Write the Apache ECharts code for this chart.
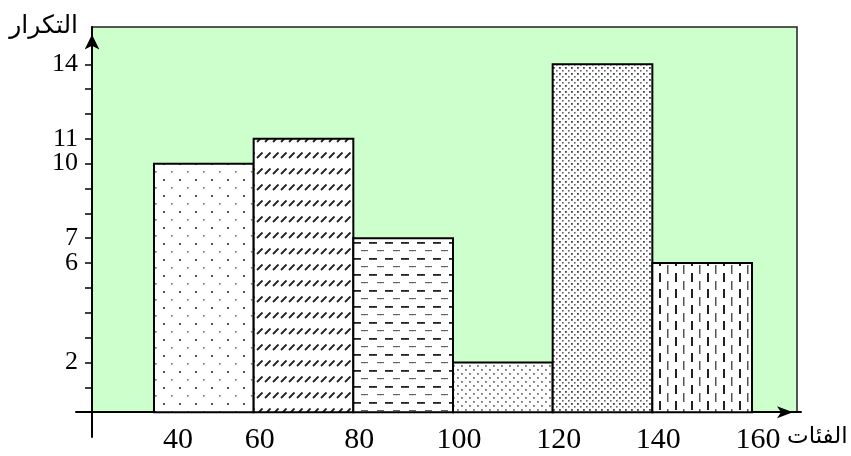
<!DOCTYPE html>
<html>
<head>
<meta charset="utf-8">
<script src="https://cdn.jsdelivr.net/npm/echarts@6/dist/echarts.min.js"></script>
<style>
html, body { margin: 0; padding: 0; background: #fff; }
#main { width: 851px; height: 456px; }
</style>
</head>
<body>
<div id="main"></div>
<script>
// classes (lower / upper bound) and their frequencies
var classStart = [40, 60, 80, 100, 120, 140];
var classEnd = [60, 80, 100, 120, 140, 160];
var frequency = [10, 11, 7, 2, 14, 6];

var xTickLabels = [40, 60, 80, 100, 120, 140, 160];
var yTickLabels = [2, 6, 7, 10, 11, 14];
var yTicks = [1, 2, 3, 4, 5, 6, 7, 8, 9, 10, 11, 12, 13, 14];

var SERIF = "'Liberation Serif', 'Times New Roman', serif";
var ARABIC = "'DejaVu Sans', sans-serif";

// small canvas tiles used as fill patterns for the bars
function makeTile(w, h, draw) {
    var c = document.createElement('canvas');
    c.width = w;
    c.height = h;
    var ctx = c.getContext('2d');
    ctx.fillStyle = '#fff';
    ctx.fillRect(0, 0, w, h);
    draw(ctx);
    return { image: c, repeat: 'repeat' };
}

var patterns = [
    // sparse dots
    makeTile(16, 16, function (ctx) {
        ctx.fillStyle = '#555';
        ctx.fillRect(3, 3, 2, 2);
        ctx.fillStyle = '#777';
        ctx.fillRect(11, 11, 1.6, 1.6);
    }),
    // dashed upward diagonal
    makeTile(8, 16, function (ctx) {
        ctx.strokeStyle = '#222';
        ctx.lineWidth = 1.8;
        ctx.beginPath();
        ctx.moveTo(1, 14);
        ctx.lineTo(6.5, 8.5);
        ctx.stroke();
    }),
    // dashed horizontal
    makeTile(16, 16, function (ctx) {
        ctx.fillStyle = '#222';
        ctx.fillRect(1, 2, 8, 1.8);
        ctx.fillStyle = '#666';
        ctx.fillRect(9, 10, 7, 1.2);
    }),
    // light dense dots
    makeTile(8, 8, function (ctx) {
        ctx.fillStyle = '#777';
        ctx.fillRect(1, 1, 1.8, 1.8);
        ctx.fillRect(5, 5, 1.8, 1.8);
    }),
    // dark dense dots
    makeTile(6, 6, function (ctx) {
        ctx.fillStyle = '#444';
        ctx.fillRect(1, 1, 1.8, 1.8);
        ctx.fillStyle = '#666';
        ctx.fillRect(4, 4, 1.6, 1.6);
    }),
    // dashed vertical
    makeTile(16, 16, function (ctx) {
        ctx.fillStyle = '#222';
        ctx.fillRect(3, 1, 2, 9);
        ctx.fillStyle = '#555';
        ctx.fillRect(11, 9, 1.5, 7);
        ctx.fillRect(11, 0, 1.5, 2);
    })
];

var barData = classStart.map(function (s, i) {
    return [s, classEnd[i], frequency[i]];
});

var chart = echarts.init(document.getElementById('main'));
var option = {
    animation: false,
    grid: [
        {
            // green plot background
            left: 92, right: 54, top: 27, bottom: 44,
            show: true,
            backgroundColor: '#ccffcc',
            borderColor: '#222',
            borderWidth: 1.5
        },
        {
            left: 76, right: 50, top: 27, bottom: 19
        }
    ],
    xAxis: {
        gridIndex: 1,
        type: 'value',
        min: 24.35,
        max: 169.83,
        name: 'الفئات',
        nameLocation: 'end',
        nameGap: -14,
        nameTextStyle: {
            fontFamily: ARABIC,
            fontSize: 23,
            color: '#000',
            align: 'left',
            verticalAlign: 'top',
            padding: [13, 0, 0, 0]
        },
        axisLine: {
            onZero: true,
            symbol: ['none', 'arrow'],
            symbolSize: [9, 16],
            symbolOffset: [0, -8],
            lineStyle: { color: '#000', width: 2 }
        },
        axisTick: { show: false },
        splitLine: { show: false },
        axisLabel: {
            customValues: xTickLabels,
            margin: 3,
            verticalAlign: 'middle',
            color: '#000',
            fontFamily: SERIF,
            fontSize: 30,
            formatter: function (v) {
                return v === 40 ? '{first|' + v + '}' : '{v|' + v + '}';
            },
            rich: {
                first: { padding: [0, 0, 0, 48], fontFamily: SERIF, fontSize: 30, color: '#000' },
                v: { padding: [0, 0, 0, 12], fontFamily: SERIF, fontSize: 30, color: '#000' }
            }
        }
    },
    yAxis: {
        gridIndex: 1,
        type: 'value',
        min: -1,
        max: 15.5,
        offset: -16,
        name: 'التكرار',
        nameLocation: 'end',
        nameGap: 1,
        nameTextStyle: {
            fontFamily: ARABIC,
            fontSize: 25,
            color: '#000',
            align: 'right',
            verticalAlign: 'middle',
            padding: [0, 14, 0, 0]
        },
        axisLine: {
            show: true,
            symbol: ['none', 'arrow'],
            symbolSize: [11, 15],
            symbolOffset: [0, -7.5],
            lineStyle: { color: '#000', width: 2 }
        },
        axisTick: {
            show: true,
            customValues: yTicks,
            length: 7,
            lineStyle: { color: '#000', width: 1.5 }
        },
        splitLine: { show: false },
        axisLabel: {
            customValues: yTickLabels,
            margin: 14,
            color: '#000',
            fontFamily: SERIF,
            fontSize: 26
        }
    },
    series: [
        {
            type: 'custom',
            xAxisIndex: 0,
            yAxisIndex: 0,
            data: barData,
            encode: { x: [0, 1], y: 2 },
            renderItem: function (params, api) {
                var top = api.coord([api.value(0), api.value(2)]);
                var bottom = api.coord([api.value(1), 0]);
                return {
                    type: 'rect',
                    shape: {
                        x: top[0],
                        y: top[1],
                        width: bottom[0] - top[0],
                        height: bottom[1] - top[1]
                    },
                    style: {
                        fill: patterns[params.dataIndex],
                        stroke: '#000',
                        lineWidth: 2
                    }
                };
            }
        }
    ]
};
chart.setOption(option);
</script>
</body>
</html>
